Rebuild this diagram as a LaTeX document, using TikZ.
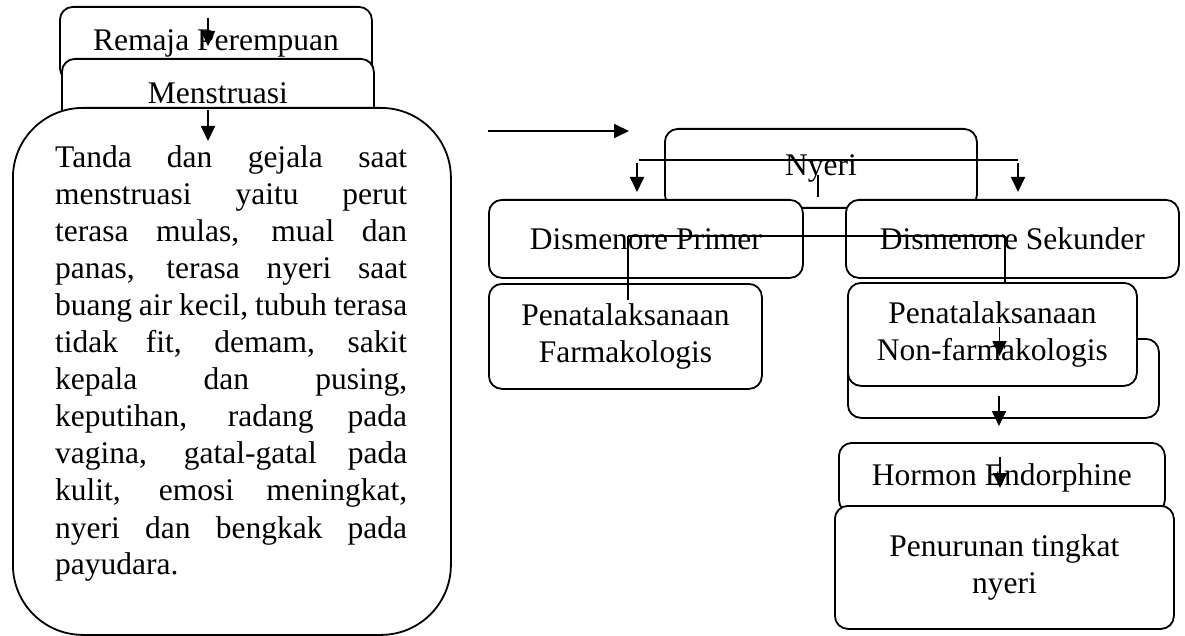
\documentclass[tikz,border=0pt]{standalone}
\usepackage{fontspec}
\setmainfont{Liberation Serif}
\usetikzlibrary{arrows.meta}
\begin{document}
\begin{tikzpicture}[x=1pt,y=-1pt,
  every node/.style={font=\fontsize{31.5}{37}\selectfont},
  box/.style={draw, line width=1.8pt, rounded corners=13pt, fill=white, inner sep=0pt, anchor=north west, align=center},
  arr/.style={line width=1.8pt, -{Triangle[length=15pt,width=14pt]}},
  ln/.style={line width=1.8pt}]
\useasboundingbox (0,0) rectangle (1185,636);

% left column
\node[box, minimum width=312pt, minimum height=74pt] (remaja) at (59,6) {Remaja Perempuan};
\coordinate (ra1) at (208,18);
\coordinate (ra2) at (208,46);
\draw[arr] (ra1) -- (ra2);
\node[box, minimum width=312pt, minimum height=68pt] (mens) at (61,58) {Menstruasi};
\node[box, rounded corners=70pt, minimum width=438pt, minimum height=527pt] (tanda) at (12,107) {};
\node[anchor=base west, text width=352pt, align=justify, inner sep=0pt] (tandat) at (55,168)
{\tolerance=10000\hbadness=10000\hyphenpenalty=10000
Tanda dan gejala saat\linebreak menstruasi yaitu perut\linebreak terasa mulas, mual dan\linebreak panas, terasa nyeri saat\linebreak buang air kecil, tubuh terasa\linebreak tidak fit, demam, sakit\linebreak kepala dan pusing,\linebreak keputihan, radang pada\linebreak vagina, gatal-gatal pada\linebreak kulit, emosi meningkat,\linebreak nyeri dan bengkak pada\linebreak payudara.};
\coordinate (ma1) at (208,110);
\coordinate (ma2) at (208,141);
\draw[arr] (ma1) -- (ma2);

% free arrow
\coordinate (fa1) at (488,131);
\coordinate (fa2) at (629,131);
\draw[arr] (fa1) -- (fa2);

% Nyeri
\node[box, minimum width=312pt, minimum height=79pt] (nyeri) at (664,128) {Nyeri};
\coordinate (nl) at (639,160);
\coordinate (nr) at (1018,160);
\coordinate (nlt) at (637,163);
\coordinate (nrt) at (1018,163);
\coordinate (nld) at (637,192);
\coordinate (nrd) at (1018,192);
\draw[ln] (nl) -- (nr);
\draw[arr] (nlt) -- (nld);
\draw[arr] (nrt) -- (nrd);

\node[box, minimum width=314pt, minimum height=78pt] (primer) at (488,199) {Dismenore Primer};
\node[box, minimum width=333pt, minimum height=78pt] (sekunder) at (845,199) {Dismenore Sekunder};
\coordinate (ns1) at (818,175);
\coordinate (ns2) at (818,197);
\draw[ln] (ns1) -- (ns2);

\node[box, minimum width=273pt, minimum height=105pt] (farma) at (488,283) {Penatalaksanaan\\Farmakologis};
\node[box, minimum width=311pt, minimum height=79pt] (back) at (847,338) {};
\node[box, minimum width=289pt, minimum height=103pt] (nonfarma) at (847,282) {Penatalaksanaan\\Non-farmakologis};

\coordinate (dl) at (627.6,236);
\coordinate (dr) at (1005,236);
\coordinate (dld) at (627.6,300);
\coordinate (drd) at (1005,282);
\draw[ln] (dl) -- (dr);
\draw[ln] (dl) -- (dld);
\draw[ln] (dr) -- (drd);

\coordinate (na1) at (999.5,327);
\coordinate (na2) at (999.5,356);
\draw[arr] (na1) -- (na2);

\coordinate (ba1) at (999,396);
\coordinate (ba2) at (999,426);
\draw[arr] (ba1) -- (ba2);

\node[box, minimum width=326pt, minimum height=70pt] (hormon) at (838,442) {Hormon Endorphine};
\coordinate (ha1) at (1000,457);
\coordinate (ha2) at (1000,488);
\draw[arr] (ha1) -- (ha2);

\node[box, minimum width=339pt, minimum height=123pt] (turun) at (834,505) {Penurunan tingkat\\nyeri};
\end{tikzpicture}
\end{document}
